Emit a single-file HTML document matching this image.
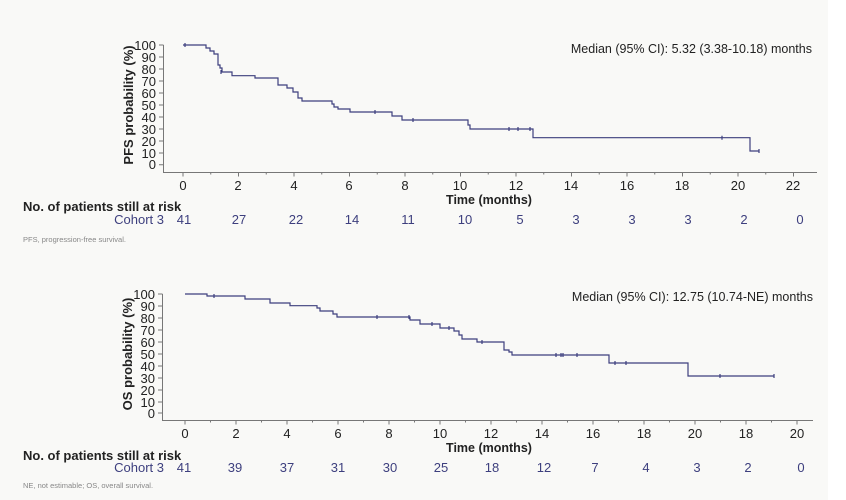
<!DOCTYPE html>
<html><head><meta charset="utf-8"><style>
body{margin:0;background:#fff}
svg{display:block}
text{font-family:"Liberation Sans",sans-serif}
</style></head><body>
<svg width="846" height="500" xmlns="http://www.w3.org/2000/svg">
<rect x="0" y="0" width="828" height="500" fill="#f9f9f7"/>
<g stroke="#777" stroke-width="1" fill="none">
<path d="M163.5 45V172.5H817"/>
<path d="M159 45h4.5M159 57h4.5M159 69h4.5M159 81h4.5M159 93h4.5M159 105h4.5M159 117h4.5M159 129h4.5M159 141h4.5M159 153h4.5M159 164.7h4.5"/>
<path d="M183 172.5v4M210.75 172.5v2M238.5 172.5v4M266.25 172.5v2M294 172.5v4M321.75 172.5v2M349.5 172.5v4M377.25 172.5v2M405 172.5v4M432.75 172.5v2M460.5 172.5v4M488.25 172.5v2M516 172.5v4M543.75 172.5v2M571.5 172.5v4M599.25 172.5v2M627 172.5v4M654.75 172.5v2M682.5 172.5v4M710.25 172.5v2M738 172.5v4M765.75 172.5v2M793.5 172.5v4"/>
<path d="M162.5 294V420.5H813"/>
<path d="M158 294h4.5M158 306h4.5M158 318h4.5M158 330h4.5M158 342h4.5M158 354h4.5M158 366h4.5M158 378h4.5M158 390h4.5M158 402h4.5M158 413h4.5"/>
<path d="M185 420.5v4M210.5 420.5v2M236 420.5v4M261.5 420.5v2M287 420.5v4M312.5 420.5v2M338 420.5v4M363.5 420.5v2M389 420.5v4M414.5 420.5v2M440 420.5v4M465.5 420.5v2M491 420.5v4M516.5 420.5v2M542 420.5v4M567.5 420.5v2M593 420.5v4M618.5 420.5v2M644 420.5v4M669.5 420.5v2M695 420.5v4M720.5 420.5v2M746 420.5v4M771.5 420.5v2M797 420.5v4"/>
</g>
<g fill="#222" font-size="13" text-anchor="end">
<text x="156" y="50">100</text><text x="156" y="62">90</text><text x="156" y="74">80</text><text x="156" y="86">70</text><text x="156" y="98">60</text><text x="156" y="110">50</text><text x="156" y="122">40</text><text x="156" y="134">30</text><text x="156" y="146">20</text><text x="156" y="158">10</text><text x="156" y="169">0</text>
<text x="155" y="299">100</text><text x="155" y="311">90</text><text x="155" y="323">80</text><text x="155" y="335">70</text><text x="155" y="347">60</text><text x="155" y="359">50</text><text x="155" y="371">40</text><text x="155" y="383">30</text><text x="155" y="395">20</text><text x="155" y="407">10</text><text x="155" y="418">0</text>
</g>
<g fill="#222" font-size="13" text-anchor="middle">
<text x="183" y="190">0</text><text x="238" y="190">2</text><text x="294" y="190">4</text><text x="349" y="190">6</text><text x="405" y="190">8</text><text x="460" y="190">10</text><text x="516" y="190">12</text><text x="571" y="190">14</text><text x="627" y="190">16</text><text x="682" y="190">18</text><text x="738" y="190">20</text><text x="793" y="190">22</text>
<text x="185" y="438">0</text><text x="236" y="438">2</text><text x="287" y="438">4</text><text x="338" y="438">6</text><text x="389" y="438">8</text><text x="440" y="438">10</text><text x="491" y="438">12</text><text x="542" y="438">14</text><text x="593" y="438">16</text><text x="644" y="438">18</text><text x="695" y="438">20</text><text x="746" y="438">18</text><text x="797" y="438">20</text>
<text x="489" y="204" font-weight="bold" font-size="12.5">Time (months)</text>
<text x="489" y="452" font-weight="bold" font-size="12.5">Time (months)</text>
</g>
<text transform="translate(133 105) rotate(-90)" text-anchor="middle" font-size="13" font-weight="bold" fill="#222">PFS probability (%)</text>
<text transform="translate(132 354) rotate(-90)" text-anchor="middle" font-size="13" font-weight="bold" fill="#222">OS probability (%)</text>
<text x="812" y="53" text-anchor="end" font-size="12.5" fill="#222">Median (95% CI): 5.32 (3.38-10.18) months</text>
<text x="813" y="301" text-anchor="end" font-size="12.5" fill="#222">Median (95% CI): 12.75 (10.74-NE) months</text>
<text x="23" y="211" font-size="13" font-weight="bold" fill="#222">No. of patients still at risk</text>
<text x="23" y="460" font-size="13" font-weight="bold" fill="#222">No. of patients still at risk</text>
<g fill="#3d3f7e" font-size="13" text-anchor="middle">
<text x="164" y="224" text-anchor="end">Cohort 3</text>
<text x="184" y="224">41</text><text x="239" y="224">27</text><text x="296" y="224">22</text><text x="352" y="224">14</text><text x="408" y="224">11</text><text x="465" y="224">10</text><text x="520" y="224">5</text><text x="576" y="224">3</text><text x="632" y="224">3</text><text x="688" y="224">3</text><text x="744" y="224">2</text><text x="800" y="224">0</text>
<text x="164" y="472" text-anchor="end">Cohort 3</text>
<text x="184" y="472">41</text><text x="235" y="472">39</text><text x="287" y="472">37</text><text x="338" y="472">31</text><text x="390" y="472">30</text><text x="441" y="472">25</text><text x="492" y="472">18</text><text x="544" y="472">12</text><text x="595" y="472">7</text><text x="646" y="472">4</text><text x="697" y="472">3</text><text x="748" y="472">2</text><text x="801" y="472">0</text>
</g>
<text x="23" y="242" font-size="7.5" fill="#888">PFS, progression-free survival.</text>
<text x="23" y="488" font-size="7.5" fill="#888">NE, not estimable; OS, overall survival.</text>
<g stroke="#3d3f7e" stroke-width="1.2" fill="none">
<path d="M183 45H206V48H210V51H214V54H218V65H220V68H222V72H232V75.7H255V78H278V85H287V88H293V92H298V98H302V101H332V104H334V107H338V109H350V112H392V116H402V120H468V125H470V129H533V137.7H750V151H759"/>
<path d="M185 43v4M221 70v4M375 110v4M413 118v4M509 127v4M518 127v4M530 127v4M722 135.7v4M759 149v4"/>
<path d="M185 294H207V296H245V299H270V303H290V305.7H317V308H320V311H333V314H337V317H410V320H420V324H440V328H454V331H459V335H462V339H477V342H504V350H509V352H512V355H609V363H688V376H774"/>
<path d="M214 294v4M377 315v4M409 315v4M432 322v4M449 326v4M482 340v4M556 353v4M561 353v4M563 353v4M577 353v4M615 361v4M626 361v4M720 374v4M774 374v4"/>
</g>
</svg>
</body></html>
